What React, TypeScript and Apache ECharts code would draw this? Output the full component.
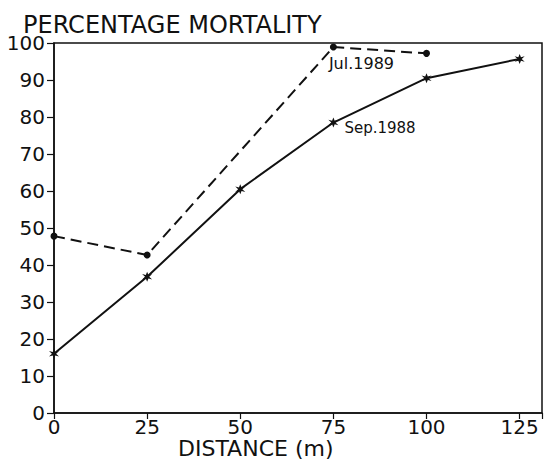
import React, { useEffect, useRef } from "react";
import * as echarts from "echarts";

const distances = [0, 25, 50, 75, 100, 125];
const sep1988 = [16, 36.8, 60.5, 78.5, 90.5, 95.7];
const jul1989Dist = [0, 25, 75, 100];
const jul1989 = [47.8, 42.7, 98.9, 97.2];
const yTicks = { min: 0, max: 100, interval: 10 };
const xTicks = { min: 0, max: 131, interval: 25 };
const titleText = "PERCENTAGE MORTALITY";
const xName = "DISTANCE (m)";
const sepLabel = "Sep.1988";
const julLabel = "Jul.1989";

const STAR =
  "path://M0,-10 L2.5,-3.5 L9.5,-5.5 L4,0 L9.5,5.5 L2.5,3.5 L0,10 L-2.5,3.5 L-9.5,5.5 L-4,0 L-9.5,-5.5 L-2.5,-3.5 Z";

export default function App() {
  const ref = useRef<HTMLDivElement>(null);
  useEffect(() => {
    if (!ref.current) return;
    const chart = echarts.init(ref.current, undefined, { renderer: "svg" });
    const font = "DejaVu Sans";
    const ink = "#111";
    chart.setOption({
      animation: false,
      backgroundColor: "#fff",
      textStyle: { fontFamily: font, color: ink },
      title: {
        text: titleText,
        left: 18,
        top: 8,
        textStyle: { fontFamily: font, fontSize: 24, fontWeight: "normal", color: ink },
      },
      grid: {
        left: 54,
        right: 3,
        top: 43,
        bottom: 47,
        show: true,
        borderColor: ink,
        borderWidth: 1.5,
        backgroundColor: "transparent",
      },
      graphic: [
        {
          type: "text",
          left: 178,
          top: 437,
          style: { text: xName, font: `22px "${font}"`, fill: ink },
        },
      ],
      xAxis: {
        type: "value",
        min: xTicks.min,
        max: xTicks.max,
        interval: xTicks.interval,
        splitLine: { show: false },
        axisLine: { lineStyle: { color: ink, width: 1.5 } },
        axisTick: { length: 6, lineStyle: { color: ink, width: 1.2 } },
        axisLabel: {
          fontFamily: font,
          fontSize: 20,
          color: ink,
          margin: 4,
          formatter: (v: number) => (v % 25 === 0 ? String(v) : ""),
        },
      },
      yAxis: {
        type: "value",
        min: yTicks.min,
        max: yTicks.max,
        interval: yTicks.interval,
        splitLine: { show: false },
        axisLine: { lineStyle: { color: ink, width: 1.5 } },
        axisTick: { length: 7, lineStyle: { color: ink, width: 1.2 } },
        axisLabel: { fontFamily: font, fontSize: 20, color: ink, margin: 9 },
      },
      series: [
        {
          name: sepLabel,
          type: "line",
          data: distances.map((d, i) => {
            const item: any = { value: [d, sep1988[i]] };
            if (d === 75) {
              item.label = {
                show: true,
                formatter: sepLabel,
                position: "right",
                distance: 6,
                offset: [0, 5],
                fontFamily: font,
                fontSize: 15,
                color: ink,
              };
            }
            return item;
          }),
          symbol: STAR,
          symbolSize: 10,
          showAllSymbol: true,
          itemStyle: { color: ink },
          lineStyle: { color: ink, width: 2 },
        },
        {
          name: julLabel,
          type: "line",
          data: jul1989Dist.map((d, i) => {
            const item: any = { value: [d, jul1989[i]] };
            if (d === 75) {
              item.label = {
                show: true,
                formatter: julLabel,
                position: "right",
                distance: 0,
                offset: [-8, 16],
                fontFamily: font,
                fontSize: 16,
                color: ink,
              };
            }
            return item;
          }),
          symbol: "circle",
          symbolSize: 7,
          showAllSymbol: true,
          itemStyle: { color: ink },
          lineStyle: { color: ink, width: 2, type: [11, 6] },
        },
      ],
    });
    return () => chart.dispose();
  }, []);
  return (
    <div
      ref={ref}
      style={{ position: "fixed", left: 0, top: 0, width: 545, height: 460 }}
    />
  );
}
